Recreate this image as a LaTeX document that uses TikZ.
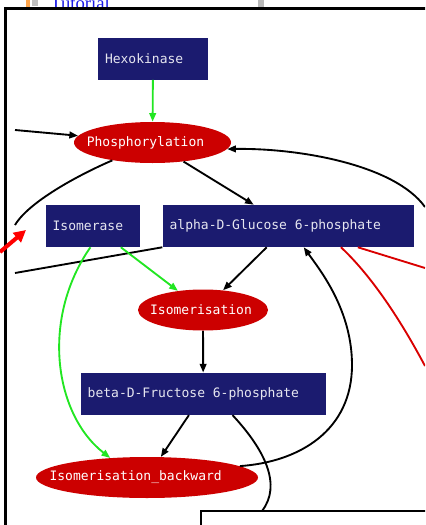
\documentclass[tikz,border=0pt]{standalone}
\usepackage{fontspec}
\usepackage{tikz}
\usetikzlibrary{arrows.meta,shapes.geometric}
\setmainfont{Liberation Serif}
\newfontfamily\pathfont{DejaVu Sans Mono}
\definecolor{boxblue}{HTML}{1B1B6F}
\definecolor{rxnred}{HTML}{CC0000}
\definecolor{labelgrey}{HTML}{E6E6F0}
\definecolor{modgreen}{HTML}{22E622}
\definecolor{linkblue}{HTML}{1A1AE6}
\newcommand\shiftlbl[2]{\makebox[0pt]{\hspace*{#1}#2}}
\newcommand\msp{\phantom{0}}

\tikzset{
  species/.style={rectangle, fill=boxblue, text=labelgrey,
    font=\pathfont\fontsize{9.75}{12}\selectfont,
    inner xsep=5.25pt, inner ysep=0pt, minimum height=31.5pt, align=left},
  reaction/.style={ellipse, fill=rxnred, text=white,
    font=\pathfont\fontsize{9.75}{12}\selectfont,
    inner sep=0pt, minimum height=30.75pt},
  flow/.style={draw=black, line width=1.4pt, -{Triangle[length=6.5pt,width=5pt]}},
  modifier/.style={draw=modgreen, line width=1.4pt, -{Triangle[length=6.5pt,width=5pt]}},
  plain/.style={draw=black, line width=1.4pt},
  redline/.style={draw=red!85!black, line width=1.4pt}
}

\begin{document}
\begin{tikzpicture}[x=0.75pt,y=-0.75pt]
\useasboundingbox (0,0) rectangle (425,525);
\clip (0,0) rectangle (425,525);

\node[anchor=base west, text=linkblue, font=\fontsize{14}{16}\selectfont, inner sep=0pt] (tut) at (50,9.5) {Tutorial};
\fill[orange!70] (26,0) rectangle (30,7);
\fill[gray!50] (32,0) rectangle (38,6);
\fill[gray!55] (258,0) rectangle (264,7);
\draw[line width=2.25pt] (5.7,8.7) rectangle (445,545);

\node[species, text width=72pt] (hexo) at (153,58.7) {Hexokinase};
\node[reaction, minimum width=117.75pt] (phos) at (152.5,142.5) {\shiftlbl{-10.5pt}{Phosphorylation}};
\node[species, text width=60.5pt] (isomerase) at (93,226) {Isomerase};
\node[species, text width=178pt] (alpha) at (288.3,226) {alpha-D-Glucose\msp6-phosphate};
\node[reaction, minimum width=97.5pt] (isom) at (203,310) {\shiftlbl{-3pt}{Isomerisation}};
\node[species, text width=173.25pt] (beta) at (203.2,393.8) {beta-D-Fructose\msp6-phosphate};
\node[reaction, minimum width=166.5pt] (isob) at (147,477.5) {\shiftlbl{-17pt}{Isomerisation\_backward}};

\coordinate (inL) at (15,130);
\coordinate (outL) at (15,225);
\coordinate (outLL) at (15,273);
\coordinate (inR) at (425,207);
\coordinate (outR) at (425,268);
\coordinate (outRR) at (425,366);
\coordinate (outB) at (262,511);

\draw[modifier] (hexo) -- (phos);
\draw[flow] (inL) -- (phos);
\draw[plain] (phos.204) .. controls (85,172) and (30,200) .. (outL);
\draw[flow] (phos) -- (alpha);
\draw[flow] (inR) .. controls (395,165) and (300,148) .. (phos.-5);
\draw[plain] (alpha.south west) -- (outLL);
\draw[modifier] (isomerase) -- (isom);
\draw[modifier] (isomerase.-97) .. controls (40,320) and (55,415) .. (isob.152);
\draw[flow] (alpha) -- (isom);
\draw[flow] (isom) -- (beta);
\draw[flow] (beta) -- (isob);
\draw[flow] (isob.7.5) .. controls (300,462) and (352,430) .. (352,365)
  .. controls (352,310) and (320,270) .. (alpha.-54.5);
\draw[plain] (beta.-36.5) .. controls (265,450) and (282,485) .. (outB);
\draw[redline] (alpha.-22) .. controls (360,265) and (390,300) .. (outRR);
\draw[redline] (alpha.-17.4) -- (outR);

\draw[line width=1.5pt, fill=white] (201,511) rectangle (445,545);

\coordinate (ptrTail) at (0,252);
\coordinate (ptrTip) at (26,230);
\draw[red, line width=3pt, -{Triangle[length=9pt,width=9pt]}] (ptrTail) -- (ptrTip);
\end{tikzpicture}
\end{document}
